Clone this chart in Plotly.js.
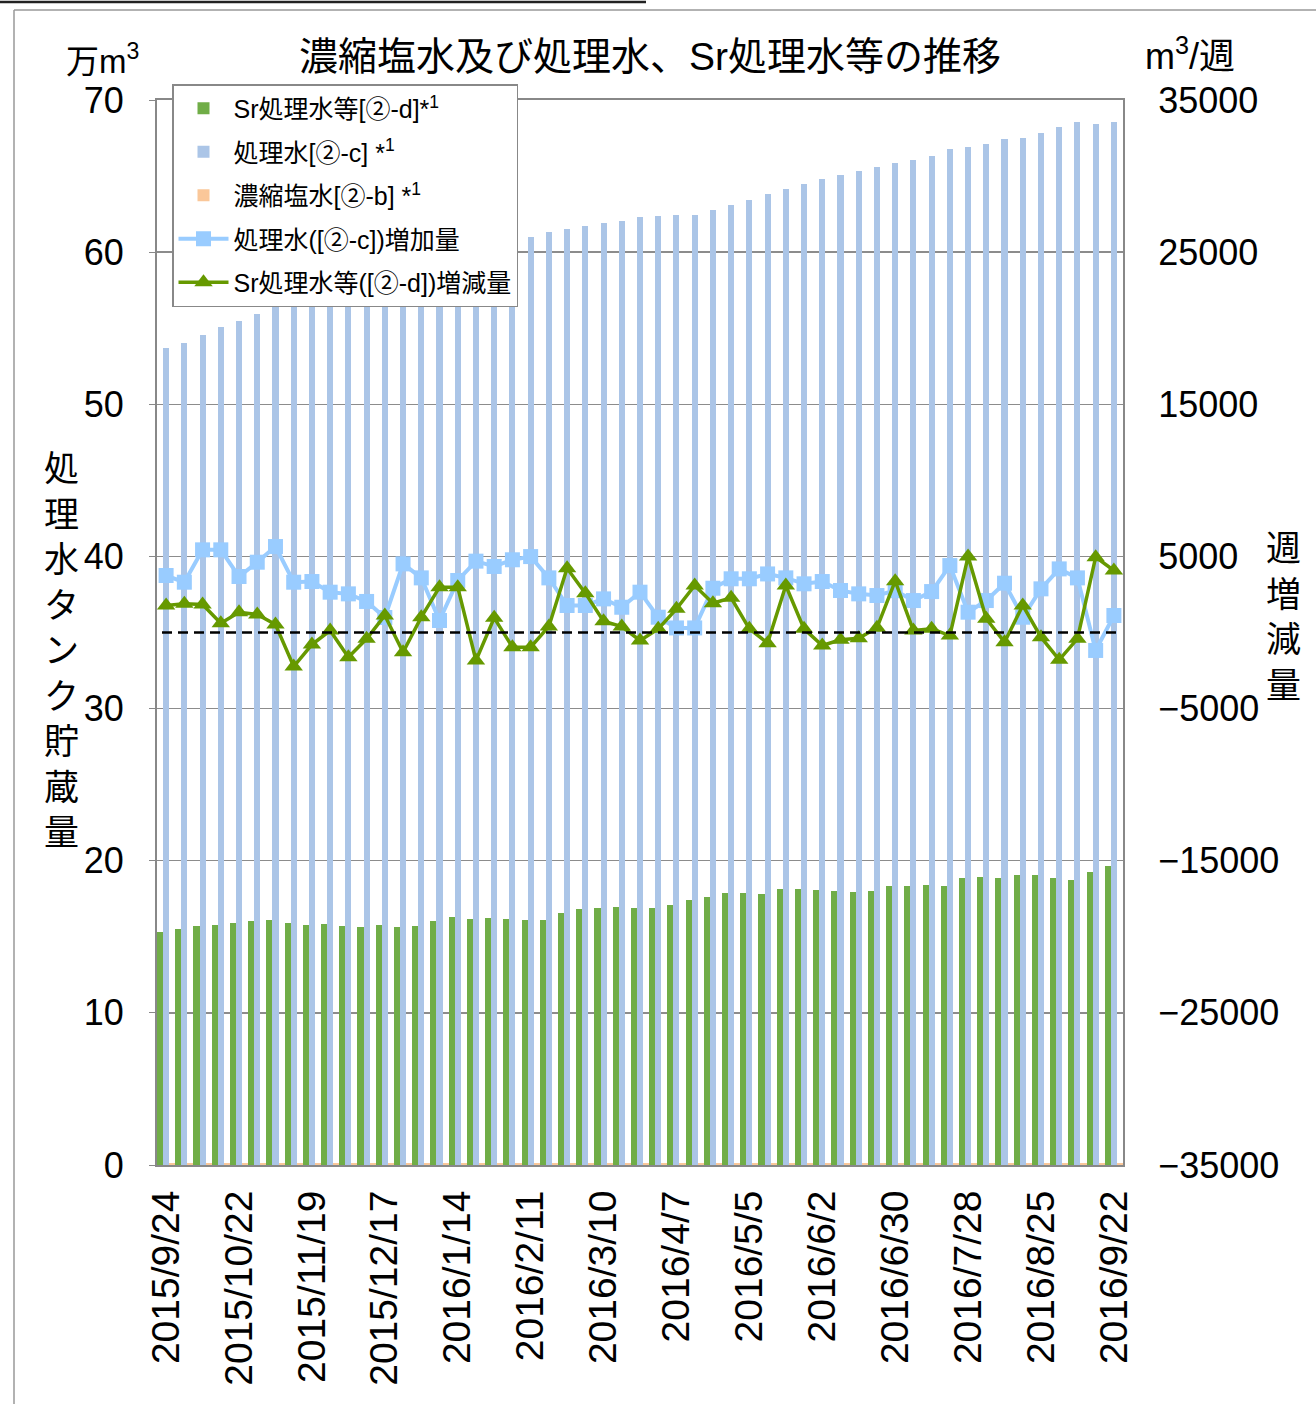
<!DOCTYPE html>
<html>
<head>
<meta charset="utf-8">
<script src="https://cdn.plot.ly/plotly-3.0.1.min.js"></script>
<style>
  html, body { margin: 0; padding: 0; background: #fff; }
  #chart { width: 1316px; height: 1404px; }
</style>
</head>
<body>
<div id="chart"></div>
<script>
// ---- data ----
const categories = [
  "2015/9/24","2015/10/1","2015/10/8","2015/10/15","2015/10/22","2015/10/29","2015/11/5","2015/11/12",
  "2015/11/19","2015/11/26","2015/12/3","2015/12/10","2015/12/17","2015/12/24","2015/12/31","2016/1/7",
  "2016/1/14","2016/1/21","2016/1/28","2016/2/4","2016/2/11","2016/2/18","2016/2/25","2016/3/3",
  "2016/3/10","2016/3/17","2016/3/24","2016/3/31","2016/4/7","2016/4/14","2016/4/21","2016/4/28",
  "2016/5/5","2016/5/12","2016/5/19","2016/5/26","2016/6/2","2016/6/9","2016/6/16","2016/6/23",
  "2016/6/30","2016/7/7","2016/7/14","2016/7/21","2016/7/28","2016/8/4","2016/8/11","2016/8/18",
  "2016/8/25","2016/9/1","2016/9/8","2016/9/15","2016/9/22"
];
const tickLabels = [
  "2015/9/24","2015/10/22","2015/11/19","2015/12/17","2016/1/14","2016/2/11","2016/3/10",
  "2016/4/7","2016/5/5","2016/6/2","2016/6/30","2016/7/28","2016/8/25","2016/9/22"
];
// 万m3
const srStorage = [
  15.29,15.51,15.71,15.77,15.93,16.04,16.10,15.88,15.80,15.82,15.69,15.62,15.75,15.62,15.73,16.04,
  16.32,16.15,16.26,16.17,16.08,16.12,16.58,16.83,16.91,16.96,16.91,16.91,17.09,17.40,17.60,17.86,
  17.88,17.79,18.12,18.14,18.06,18.01,17.96,17.99,18.34,18.34,18.38,18.36,18.84,18.93,18.88,19.08,
  19.06,18.86,18.73,19.26,19.65
];
const treatedStorage = [
  53.70,54.03,54.57,55.10,55.45,55.92,56.50,56.82,57.15,57.41,57.66,57.86,57.96,58.40,58.75,58.83,
  59.17,59.63,60.06,60.53,61.02,61.32,61.50,61.70,61.89,62.05,62.31,62.40,62.42,62.44,62.75,63.10,
  63.43,63.82,64.17,64.48,64.81,65.07,65.33,65.58,65.86,66.06,66.32,66.76,66.89,67.11,67.42,67.52,
  67.81,68.20,68.58,68.45,68.56
];
const brineStorage = [
  0.10,0.10,0.10,0.10,0.10,0.10,0.10,0.10,0.10,0.10,0.10,0.10,0.10,0.10,0.10,0.10,
  0.10,0.10,0.10,0.10,0.10,0.10,0.10,0.10,0.10,0.10,0.10,0.10,0.10,0.10,0.10,0.10,
  0.10,0.10,0.10,0.10,0.10,0.10,0.10,0.10,0.10,0.10,0.10,0.10,0.10,0.10,0.10,0.10,
  0.10,0.10,0.10,0.10,0.10
];
// m3/週
const treatedWeekly = [
  3745,3306,5433,5433,3680,4620,5650,3306,3350,2650,2540,2040,985,4510,3590,790,
  3420,4690,4340,4780,4990,3590,1775,1775,2210,1660,2650,1005,300,300,2910,3530,
  3530,3850,3590,3200,3350,2760,2540,2430,2750,2100,2690,4400,1335,2100,3240,1005,
  2870,4180,3590,-1180,1117
];
const srWeekly = [
  1775,1885,1840,610,1335,1180,525,-2235,-790,130,-1620,-415,1117,-1295,1005,2980,
  2980,-1840,965,-965,-965,395,4225,2585,745,395,-525,240,1555,3090,1925,2280,
  240,-700,3090,240,-855,-480,-375,305,3370,130,240,-200,4990,900,-635,1775,
  -310,-1795,-415,4950,4075
];

// ---- chart ----
const FONT = "'Liberation Sans', 'Noto Sans CJK JP', sans-serif";
const traces = [
  { type: "bar", name: "Sr処理水等[②-d]*<sup>1</sup>", x: categories, y: srStorage,
    marker: { color: "#70AD47" }, legendgroup: "a", yaxis: "y", xaxis: "x" },
  { type: "bar", name: "処理水[②-c] *<sup>1</sup>", x: categories, y: treatedStorage,
    marker: { color: "#ABC5E7" }, legendgroup: "b", yaxis: "y", xaxis: "x" },
  { type: "bar", name: "濃縮塩水[②-b] *<sup>1</sup>", x: categories, y: brineStorage,
    marker: { color: "#FAC799" }, legendgroup: "c", yaxis: "y", xaxis: "x" },
  { type: "scatter", mode: "lines+markers", name: "処理水([②-c])増加量", x: categories, y: treatedWeekly,
    yaxis: "y2", xaxis: "x", legendgroup: "d",
    line: { color: "#99CCFF", width: 4 },
    marker: { symbol: "square", size: 15, color: "#99CCFF" } },
  { type: "scatter", mode: "lines+markers", name: "Sr処理水等([②-d])増減量", x: categories, y: srWeekly,
    yaxis: "y2", xaxis: "x", legendgroup: "e",
    line: { color: "#669900", width: 3.5 },
    marker: { symbol: "triangle-up", size: 16, color: "#669900" } }
];

const px = p => (p - 157) / 966;      // pixel -> paper x
const py = p => (1165 - p) / 1065;    // pixel -> paper y

const layout = {
  width: 1316, height: 1404,
  margin: { l: 157, r: 193, t: 100, b: 239 },
  paper_bgcolor: "#fff", plot_bgcolor: "#fff",
  font: { family: FONT, color: "#000", size: 22 },
  title: { text: "濃縮塩水及び処理水、Sr処理水等の推移", x: 650 / 1316, xanchor: "center",
           y: 1 - 56 / 1404, yanchor: "middle", font: { size: 39, family: FONT, color: "#000" } },
  barmode: "group", bargap: 0, bargroupgap: 0,
  showlegend: true,
  legend: { x: px(172), y: py(84), xanchor: "left", yanchor: "top",
            bgcolor: "#fff", bordercolor: "#888", borderwidth: 1.5,
            font: { size: 25, family: FONT }, traceorder: "grouped", tracegroupgap: 8,
            itemwidth: 50 },
  xaxis: { type: "category", range: [-0.5, 52.5], tickvals: tickLabels, ticktext: tickLabels, tickangle: -90,
           tickfont: { size: 39 }, ticks: "", showgrid: false,
           showline: true, linecolor: "#888", linewidth: 2, mirror: true,
           ticklabelstandoff: 8 },
  xaxis2: { overlaying: "x", anchor: "y", side: "bottom", range: [-0.5, 52.5],
            tick0: -0.5, dtick: 1, ticks: "inside", ticklen: 9, tickcolor: "#999", tickwidth: 1.5,
            showticklabels: false, showgrid: false, zeroline: false, showline: false },
  yaxis: { range: [0, 70], dtick: 10, tickfont: { size: 36 }, gridcolor: "#8c8c8c", gridwidth: 1.5,
           showline: true, linecolor: "#888", linewidth: 2, ticks: "outside", ticklen: 6,
           tickcolor: "#888", zeroline: false, ticklabelstandoff: 18 },
  yaxis2: { overlaying: "y", side: "right", range: [-35000, 35000], tick0: -35000, dtick: 10000,
            tickformat: "d", tickfont: { size: 36 }, showgrid: false, zeroline: false,
            showline: true, linecolor: "#888", linewidth: 2, ticks: "", ticklabelstandoff: 26 },
  shapes: [
    { type: "line", xref: "paper", yref: "y2", x0: px(162), x1: px(1117), y0: 0, y1: 0,
      line: { color: "#000", width: 2.5, dash: "10px,6px" }, layer: "above" },
    { type: "line", xref: "paper", yref: "paper", x0: px(14), x1: px(14), y0: py(10), y1: py(1404),
      line: { color: "#999", width: 1.5 } },
    { type: "line", xref: "paper", yref: "paper", x0: px(14), x1: px(1316), y0: py(10), y1: py(10),
      line: { color: "#999", width: 1.5 } },
    { type: "line", xref: "paper", yref: "paper", x0: px(0), x1: px(646), y0: py(2), y1: py(2),
      line: { color: "#222", width: 2.5 } }
  ],
  annotations: [
    { text: "万m<sup>3</sup>", xref: "paper", yref: "paper", x: px(102), y: py(59),
      xanchor: "center", yanchor: "middle", showarrow: false, font: { size: 33 } },
    { text: "m<sup>3</sup>/週", xref: "paper", yref: "paper", x: px(1190), y: py(54),
      xanchor: "center", yanchor: "middle", showarrow: false, font: { size: 36 } },
    { text: "処<br>理<br>水<br>タ<br>ン<br>ク<br>貯<br>蔵<br>量", xref: "paper", yref: "paper",
      x: px(61), y: py(650), xanchor: "center", yanchor: "middle", showarrow: false,
      font: { size: 35 } },
    { text: "週<br>増<br>減<br>量", xref: "paper", yref: "paper",
      x: px(1283), y: py(617), xanchor: "center", yanchor: "middle", showarrow: false,
      font: { size: 35 } }
  ]
};

Plotly.newPlot("chart", traces, layout, { staticPlot: true, displayModeBar: false });
</script>
</body>
</html>
